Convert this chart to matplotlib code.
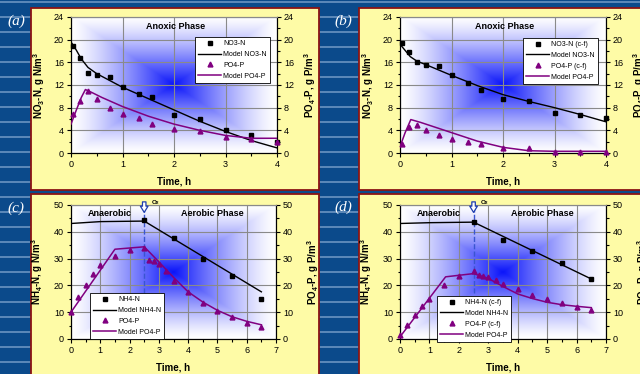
import numpy as np
import matplotlib.pyplot as plt
from matplotlib.patches import Rectangle
from matplotlib.ticker import MultipleLocator

plt.rcParams['font.family'] = ['Liberation Sans', 'DejaVu Sans']
plt.rcParams['mathtext.fontset'] = 'custom'
plt.rcParams['mathtext.rm'] = 'Liberation Sans'
plt.rcParams['mathtext.bf'] = 'Liberation Sans:bold'

# ---- data ----
# (a) anoxic phase
t_a = [0.03, 0.17, 0.33, 0.5, 0.75, 1.0, 1.33, 1.58, 2.0, 2.5, 3.0, 3.5, 4.0]
no3_a = [18.8, 16.8, 14.2, 13.8, 13.5, 11.6, 10.5, 9.8, 6.7, 6.0, 4.0, 3.2, 2.0]
po4_a = [6.8, 9.2, 11.0, 9.5, 7.9, 6.8, 6.1, 5.2, 4.3, 3.8, 2.9, 2.4, 2.0]
tm_no3_a = [0, 0.1, 0.2, 0.33, 0.5, 0.75, 1, 1.5, 2, 2.5, 3, 3.5, 4]
mod_no3_a = [19.6, 18.2, 16.6, 15.1, 14.0, 12.8, 11.6, 9.6, 7.6, 5.6, 3.8, 2.2, 0.9]
tm_po4_a = [0, 0.1, 0.2, 0.28, 0.4, 0.6, 1, 1.5, 2, 2.5, 3, 3.5, 4]
mod_po4_a = [5.1, 7.5, 9.8, 11.2, 10.7, 9.8, 8.2, 6.5, 5.1, 4.0, 3.1, 2.6, 2.6]

# (b) anoxic phase, c-f
t_b = [0.03, 0.17, 0.33, 0.5, 0.75, 1.0, 1.33, 1.58, 2.0, 2.5, 3.0, 3.5, 4.0]
no3_b = [19.4, 17.9, 16.1, 15.6, 15.4, 13.8, 12.3, 11.2, 9.6, 9.1, 7.1, 6.7, 6.1]
po4_b = [1.6, 4.6, 4.9, 4.1, 3.1, 2.5, 2.0, 1.6, 0.9, 0.9, 0.2, 0.2, 0.1]
tm_no3_b = [0, 0.1, 0.2, 0.33, 0.5, 1, 1.5, 2, 2.5, 3, 3.5, 4]
mod_no3_b = [19.2, 18.1, 17.0, 16.2, 15.6, 13.7, 11.9, 10.3, 9.1, 8.0, 6.8, 5.5]
tm_po4_b = [0, 0.1, 0.21, 0.4, 0.7, 1, 1.5, 2, 2.5, 3, 3.5, 4]
mod_po4_b = [1.1, 3.6, 5.9, 5.4, 4.5, 3.6, 2.1, 1.0, 0.4, 0.3, 0.3, 0.3]

# (c) anaerobic / aerobic
t_nh4 = [2.5, 3.5, 4.5, 5.5, 6.5]
t_po4 = [0, 0.25, 0.5, 0.75, 1.0, 1.5, 2.0, 2.5, 2.67, 2.83, 3.0, 3.25,
         3.5, 4.0, 4.5, 5.0, 5.5, 6.0, 6.5]
nh4_c = [44.4, 37.8, 29.9, 23.6, 14.8]
po4_c = [9.9, 15.7, 20.3, 24.4, 27.7, 30.9, 33.2, 34.0, 29.4, 29.1, 27.9,
         25.2, 21.7, 17.5, 13.5, 10.3, 8.1, 6.1, 4.5]
tm_nh4_c = [0, 1, 2.5, 6.5]
mod_nh4_c = [43.1, 43.8, 44.0, 17.6]
tm_po4_c = [0, 1.5, 2.5, 3, 3.5, 4, 4.5, 5, 5.5, 6, 6.5]
mod_po4_c = [10.0, 33.5, 34.4, 28.8, 23.0, 17.6, 13.8, 10.7, 8.3, 6.6, 5.3]

# (d) anaerobic / aerobic, c-f
nh4_d = [43.5, 36.9, 32.8, 28.3, 22.3]
po4_d = [1.4, 5.4, 9.1, 12.3, 15.1, 20.2, 23.4, 25.3, 23.8, 23.4, 23.3,
         21.9, 20.7, 18.6, 16.6, 14.8, 13.5, 12.1, 10.7]
tm_nh4_d = [0, 1, 2.5, 6.5]
mod_nh4_d = [43.1, 43.4, 43.6, 22.4]
tm_po4_d = [0, 1.55, 2.5, 3, 3.5, 4, 4.5, 5, 5.5, 6, 6.5]
mod_po4_d = [0.8, 23.2, 24.4, 22.6, 19.6, 16.8, 15.1, 13.7, 12.8, 12.2, 11.7]

o2_time = 2.5

PURPLE = '#800080'
GRID = '#8a8a8a'

W, H = 640, 374
fig = plt.figure(figsize=(6.4, 3.74), dpi=100)

# background: striped dark blue slide with yellow panels
bg = fig.add_axes([0, 0, 1, 1])
bg.set_xlim(0, W)
bg.set_ylim(H, 0)
bg.axis('off')
bg.add_patch(Rectangle((0, 0), W, H, color='#0b4a8b', lw=0))
for y0 in np.arange(0.5, H, 15):
    bg.add_patch(Rectangle((0, y0), W, 2.5, color='#5a87b8', lw=0))
for x0, y0, w, h in [(31, 8, 288, 182), (359, 8, 290, 182),
                     (31, 194, 288, 190), (359, 194, 290, 190)]:
    bg.add_patch(Rectangle((x0, y0), w, h, fc='#fefba6', ec='#8b1414', lw=1.3))
for lab, (x, y) in zip('abcd', [(16, 21), (343, 21), (16, 208), (343, 207)]):
    bg.text(x, y, '(%s)' % lab, color='white', fontsize=11,
            family='Liberation Serif', style='italic', ha='center', va='center')


def px_axes(x0, y0, x1, y1):
    return fig.add_axes([x0 / W, 1 - y1 / H, (x1 - x0) / W, (y1 - y0) / H])


def shade(ax):
    n = 300
    xx, yy = np.meshgrid(np.linspace(-1, 1, n), np.linspace(-1, 1, n))
    t = np.maximum(np.abs(xx), np.abs(yy))
    w = ((1 - t) ** 1.3)[..., None]
    blue = np.array([0.04, 0.08, 0.98])
    img = (1 - w) * np.ones(3) + w * blue
    ax.imshow(img, extent=[0, 1, 0, 1], transform=ax.transAxes,
              aspect='auto', zorder=0, interpolation='bilinear')


def setup(ax, ax2, xmax, ymax, ystep, ylab, ylab2, lx, rx):
    ax.set_xlim(0, xmax)
    ax.set_ylim(0, ymax)
    ax2.set_ylim(0, ymax)
    ax.xaxis.set_major_locator(MultipleLocator(1))
    ax.xaxis.set_minor_locator(MultipleLocator(0.5))
    for a in (ax, ax2):
        a.yaxis.set_major_locator(MultipleLocator(ystep))
        a.yaxis.set_minor_locator(MultipleLocator(ystep / 2))
        a.tick_params(which='both', direction='out', labelsize=6.5, pad=2,
                      width=0.8)
        a.tick_params(which='major', length=3)
        a.tick_params(which='minor', length=1.8)
        a.spines['top'].set_color(GRID)
    ax.grid(True, which='major', color=GRID, lw=0.8)
    ax.set_axisbelow(True)
    ax.set_xlabel('Time, h', fontsize=7, fontweight='bold')
    ax.set_ylabel(ylab, fontsize=7, fontweight='bold')
    ax2.set_ylabel(ylab2, fontsize=7, fontweight='bold', rotation=90)
    ax.yaxis.set_label_coords(lx, 0.5)
    ax2.yaxis.set_label_coords(rx, 0.5)
    ax.xaxis.set_label_coords(0.5, -0.175)


def legend(ax, ax2, hs, labels, x0, top):
    leg = ax2.legend(hs, labels, loc='upper left', bbox_to_anchor=(x0, top),
                     fontsize=5, fancybox=False, edgecolor='black',
                     framealpha=1, handlelength=3.3, handletextpad=0.3,
                     labelspacing=0.55, borderpad=0.45, borderaxespad=0)
    leg.get_frame().set_linewidth(0.6)


no3_lab = r'NO$_\mathbf{3}$-N, g N/m$^\mathbf{3}$'
nh4_lab = r'NH$_\mathbf{4}$-N, g N/m$^\mathbf{3}$'
po4_lab = r'PO$_\mathbf{4}$-P, g P/m$^\mathbf{3}$'

panels = [
    ((71, 17, 277, 153), t_a, no3_a, po4_a, tm_no3_a, mod_no3_a, tm_po4_a, mod_po4_a,
     ['NO3-N', 'Model NO3-N', 'PO4-P', 'Model PO4-P'], (0.602, 0.853)),
    ((400, 17, 606, 153), t_b, no3_b, po4_b, tm_no3_b, mod_no3_b, tm_po4_b, mod_po4_b,
     ['NO3-N (c-f)', 'Model NO3-N', 'PO4-P (c-f)', 'Model PO4-P'], (0.597, 0.846)),
]
for rect, tt, n_obs, p_obs, tn, n_mod, tp, p_mod, labels, lpos in panels:
    ax = px_axes(*rect)
    shade(ax)
    ax2 = ax.twinx()
    setup(ax, ax2, 4, 24, 4, no3_lab, po4_lab, -0.115, 1.121)
    h1, = ax.plot(tt, n_obs, 's', color='black', ms=3.2, clip_on=False, zorder=4)
    h2, = ax.plot(tn, n_mod, '-', color='black', lw=1.0, zorder=3)
    h3, = ax2.plot(tt, p_obs, '^', color=PURPLE, ms=3.5, clip_on=False, zorder=4)
    h4, = ax2.plot(tp, p_mod, '-', color=PURPLE, lw=1.1, zorder=3)
    ax.text(2.03, 22.3, 'Anoxic Phase', ha='center', va='center',
            fontsize=6.5, fontweight='bold')
    legend(ax, ax2, [h1, h2, h3, h4], labels, *lpos)

panels = [
    ((71, 205, 276, 339), nh4_c, po4_c, tm_nh4_c, mod_nh4_c, tm_po4_c, mod_po4_c,
     ['NH4-N', 'Model NH4-N', 'PO4-P', 'Model PO4-P'], (0.093, 0.343)),
    ((400, 205, 606, 339), nh4_d, po4_d, tm_nh4_d, mod_nh4_d, tm_po4_d, mod_po4_d,
     ['NH4-N (c-f)', 'Model NH4-N', 'PO4-P (c-f)', 'Model PO4-P'], (0.18, 0.321)),
]
for rect, n_obs, p_obs, tn, n_mod, tp, p_mod, labels, lpos in panels:
    ax = px_axes(*rect)
    shade(ax)
    ax2 = ax.twinx()
    setup(ax, ax2, 7, 50, 10, nh4_lab, po4_lab, -0.127, 1.141)
    ax.plot([o2_time, o2_time], [17, 50], '--', color='#3a55d0', lw=1.0, zorder=2)
    h1, = ax.plot(t_nh4, n_obs, 's', color='black', ms=3.2, clip_on=False, zorder=4)
    h2, = ax.plot(tn, n_mod, '-', color='black', lw=1.0, zorder=3)
    h3, = ax2.plot(t_po4, p_obs, '^', color=PURPLE, ms=3.5, clip_on=False, zorder=4)
    h4, = ax2.plot(tp, p_mod, '-', color=PURPLE, lw=1.1, zorder=3)
    ax.text(1.32, 47, 'Anaerobic', ha='center', va='center',
            fontsize=6.5, fontweight='bold')
    ax.text(4.82, 47, 'Aerobic Phase', ha='center', va='center',
            fontsize=6.5, fontweight='bold')
    ax2.annotate('', xy=(o2_time, 46.2), xytext=(o2_time, 52.2),
                 arrowprops=dict(arrowstyle='simple,head_length=0.45,head_width=0.55,tail_width=0.25',
                                 fc='white', ec='#1f3fae', lw=0.9),
                 annotation_clip=False)
    ax2.text(o2_time + 0.22, 51.0, r'O$_\mathbf{2}$', fontsize=4.5,
             fontweight='bold', ha='left', va='center')
    legend(ax, ax2, [h1, h2, h3, h4], labels, *lpos)

fig.savefig('out.png', dpi=100)
